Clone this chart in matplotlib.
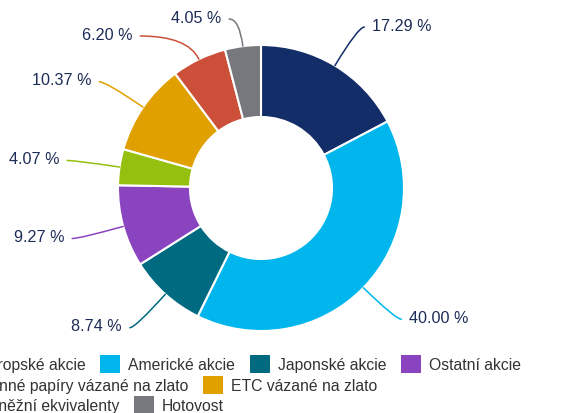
import numpy as np
import matplotlib.pyplot as plt
from matplotlib.patches import Rectangle

plt.rcParams['font.family'] = ['Liberation Sans', 'DejaVu Sans']

# data
labels = ["Evropské akcie", "Americké akcie", "Japonské akcie", "Ostatní akcie",
          "Cenné papíry vázané na zlato", "ETC vázané na zlato",
          "Peněžní ekvivalenty", "Hotovost"]
values = [17.29, 40.00, 8.74, 9.27, 4.07, 10.37, 6.20, 4.05]
colors = ["#132d68", "#00b6ec", "#006b80", "#8a44c0",
          "#96c00f", "#e0a000", "#cc5039", "#76787d"]

W, H = 575, 414
cx, cy = 261, H - 189
R_OUT, R_IN = 143, 71
# label placement (pixels)
LCY = H - 187
R_LX, R_LY = 196, 188
label_dx = [2, 0, 0, 0, 0, 0, 3, -7]
label_color = "#1c2b57"

fig = plt.figure(figsize=(W / 100, H / 100), dpi=100)
ax = fig.add_axes([0, 0, 1, 1])
ax.pie(values, colors=colors, startangle=90, counterclock=False,
       radius=R_OUT, center=(cx, cy),
       wedgeprops=dict(width=R_OUT - R_IN, edgecolor="white", linewidth=1.5))
ax.set_xlim(0, W)
ax.set_ylim(0, H)
ax.set_aspect("equal")
ax.axis("off")

# data labels (angles clockwise from top)
total = sum(values)
ends = np.cumsum(values) / total * 360
mids = ends - np.array(values) / total * 360 / 2

pos = []
for a in mids:
    t = np.radians(a)
    pos.append([cx + R_LX * np.sin(t), LCY + R_LY * np.cos(t), np.sin(t) >= 0])

# simple collision handling on the left side, from the top downwards
left = sorted([i for i in range(len(values)) if not pos[i][2]], key=lambda i: -pos[i][1])
prev = None
for i in left:
    y = min(pos[i][1], H - 18)
    if prev is not None and y > prev - 17:
        y = prev - 17
        dy = y - LCY
        pos[i][0] = cx - np.sqrt(max(R_LX ** 2 - dy ** 2, 0))
    pos[i][1] = y
    prev = y

for i, a in enumerate(mids):
    t = np.radians(a)
    ex, ey = cx + R_OUT * np.sin(t), cy + R_OUT * np.cos(t)
    lx, ly, right = pos[i]
    lx += label_dx[i]
    ang = 90 - a
    ax.annotate("", xy=(ex, ey), xytext=(lx, ly - 2),
                arrowprops=dict(arrowstyle="-", color=colors[i], lw=1.1,
                                shrinkA=0, shrinkB=0,
                                connectionstyle=f"angle3,angleA=0,angleB={ang}"))
    ax.text(lx + (8 if right else -8), ly, f"{values[i]:.2f} %",
            ha="left" if right else "right", va="center",
            fontsize=11.6, color=label_color)

# legend (left aligned, partly outside the picture)
rows = [[0, 1, 2, 3], [4, 5], [6, 7]]
row_y = [365, 386, 406]
renderer = fig.canvas.get_renderer()
for row, py in zip(rows, row_y):
    x = -49
    for i in row:
        ax.add_patch(Rectangle((x, H - py - 9), 20, 18, color=colors[i], lw=0))
        t = ax.text(x + 28, H - py - 1, labels[i], ha="left", va="center",
                    fontsize=11.3, color="#333333")
        w = t.get_window_extent(renderer).width
        x += 28 + w + 14.5

fig.savefig("out.png", dpi=100)
